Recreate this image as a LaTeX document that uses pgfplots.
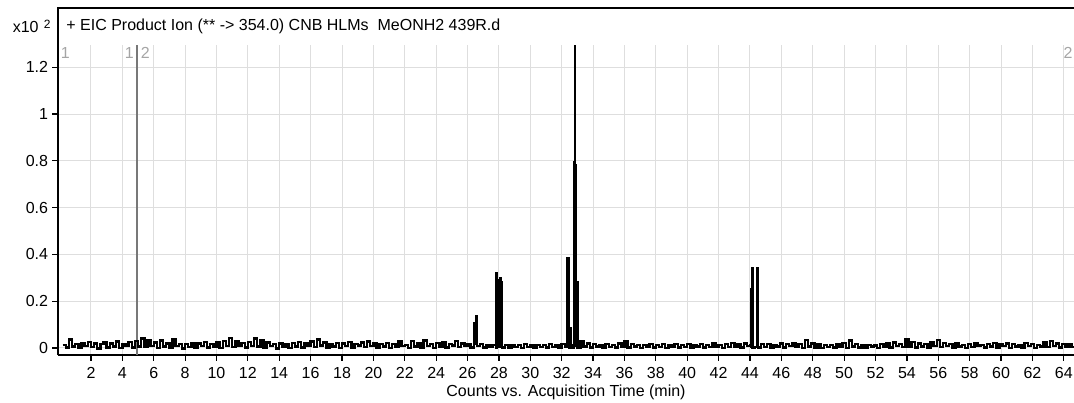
\documentclass[border=0pt]{standalone}
\usepackage{fontspec}
\setmainfont{Liberation Sans}
\usepackage{pgfplots}
\pgfplotsset{compat=1.18}
\definecolor{gridgray}{RGB}{222,222,222}
\definecolor{markgray}{RGB}{120,120,120}
\definecolor{labgray}{RGB}{165,165,165}
\begin{document}
\begin{tikzpicture}
\fontsize{8}{9}\selectfont
\begin{axis}[
  name=ax,
  at={(29pt,23.5pt)}, anchor=south west,
  scale only axis, width=508pt, height=155pt,
  xmin=-0.10, xmax=64.65, ymin=-0.03, ymax=1.295,
  axis x line*=bottom, axis y line*=left,
  axis line style={-, line width=1pt, black},
  xtick={2,4,...,64},
  xticklabels={2,4,6,8,10,12,14,16,18,20,22,24,26,28,30,32,34,36,38,40,42,44,46,48,50,52,54,56,58,60,62,64},
  ytick={0,0.2,0.4,0.6,0.8,1,1.2},
  yticklabels={0,0.2,0.4,0.6,0.8,1,1.2},
  tick align=outside,
  major tick length=2.8pt,
  tick style={black, line width=0.6pt},
  xticklabel style={font=\fontsize{8}{9}\selectfont, inner sep=1pt, yshift=-2pt},
  yticklabel style={font=\fontsize{8}{9}\selectfont, inner sep=1pt, xshift=-1pt},
  grid=major,
  major grid style={gridgray, line width=0.5pt},
  xlabel={Counts vs. Acquisition Time (min)},
  xlabel style={font=\fontsize{8}{9}\selectfont, at={(axis description cs:0.5,0)}, anchor=center, yshift=-18.5pt},
  clip=true,
]
\draw[markgray, line width=0.6pt] (axis cs:4.93,-0.03) -- (axis cs:4.93,1.295);
\addplot[black, line width=1.2pt, const plot, line join=miter] coordinates {
(0.2,0.012) (0.4,0.002) (0.6,0.036) (0.8,0.006) (1.0,0.018) (1.2,0.000) (1.4,0.022) (1.6,0.008) (1.8,0.026) (2.0,0.004)
(2.2,0.020) (2.4,-0.003) (2.6,0.016) (2.8,0.024) (3.0,0.002) (3.2,0.020) (3.4,0.006) (3.6,0.028) (3.8,0.000) (4.0,0.018)
(4.2,0.010) (4.4,0.026) (4.6,0.002) (4.8,0.030) (5.0,0.006) (5.2,0.040) (5.4,0.004) (5.6,0.034) (5.8,0.008) (6.0,0.024)
(6.2,0.000) (6.4,0.032) (6.6,0.006) (6.8,0.020) (7.0,0.002) (7.2,0.036) (7.4,0.008) (7.6,0.018) (7.8,-0.003) (8.0,0.016)
(8.2,0.004) (8.4,0.022) (8.6,0.000) (8.8,0.020) (9.0,0.008) (9.2,0.026) (9.4,0.002) (9.6,0.018) (9.8,0.006) (10.0,0.024)
(10.2,0.000) (10.4,0.030) (10.6,0.008) (10.8,0.042) (11.0,0.004) (11.2,0.028) (11.4,0.010) (11.6,0.022) (11.8,0.002) (12.0,0.026)
(12.2,0.008) (12.4,0.040) (12.6,0.006) (12.8,0.034) (13.0,0.000) (13.2,0.024) (13.4,0.008) (13.6,0.016) (13.8,-0.003) (14.0,0.020)
(14.2,0.004) (14.4,0.018) (14.6,0.000) (14.8,0.022) (15.0,0.006) (15.2,0.026) (15.4,0.002) (15.6,0.020) (15.8,0.008) (16.0,0.028)
(16.2,0.004) (16.4,0.036) (16.6,0.010) (16.8,0.024) (17.0,0.002) (17.2,0.018) (17.4,0.006) (17.6,0.022) (17.8,0.000) (18.0,0.020)
(18.2,0.008) (18.4,0.026) (18.6,0.002) (18.8,0.018) (19.0,0.010) (19.2,0.024) (19.4,0.004) (19.6,0.028) (19.8,0.008) (20.0,0.020)
(20.2,0.002) (20.4,0.016) (20.6,0.006) (20.8,0.022) (21.0,0.000) (21.2,0.018) (21.4,0.004) (21.6,0.030) (21.8,0.008) (22.0,0.014)
(22.2,0.000) (22.4,0.030) (22.6,0.006) (22.8,0.020) (23.0,0.002) (23.2,0.032) (23.4,0.008) (23.6,0.016) (23.8,0.000) (24.0,0.022)
(24.2,0.006) (24.4,0.026) (24.6,0.002) (24.8,0.018) (25.0,0.010) (25.2,0.030) (25.4,0.004) (25.6,0.020) (25.8,0.008) (26.0,0.016)
(26.2,0.002) (26.4,0.020) (26.45,0.105) (26.55,0.137) (26.6,0.008) (26.8,0.018) (27.0,0.002) (27.2,0.014) (27.4,0.006) (27.6,0.012)
(27.8,0.002) (27.85,0.320) (27.88,0.290) (27.92,0.004) (28.10,0.300) (28.14,0.280) (28.18,0.002) (28.4,0.012) (28.6,0.000) (28.8,0.014)
(29.0,0.004) (29.2,0.012) (29.4,0.000) (29.6,0.016) (29.8,0.004) (30.0,0.010) (30.2,0.000) (30.4,0.014) (30.6,0.004) (30.8,0.012)
(31.0,0.002) (31.2,0.016) (31.4,0.004) (31.6,0.012) (31.8,0.000) (32.0,0.018) (32.2,0.004) (32.35,0.020) (32.38,0.385) (32.45,0.370)
(32.48,0.002) (32.55,0.085) (32.6,0.002) (32.75,0.010) (32.78,0.520) (32.80,0.795) (32.83,1.290) (32.86,0.520) (32.88,0.780) (32.92,0.010)
(32.96,0.280) (33.0,0.002) (33.2,0.030) (33.4,0.006) (33.6,0.020) (33.8,0.002) (34.0,0.018) (34.2,0.006) (34.4,0.014) (34.6,0.000)
(34.8,0.016) (35.0,0.004) (35.2,0.012) (35.4,0.002) (35.6,0.020) (35.8,0.006) (36.0,0.028) (36.2,0.002) (36.4,0.016) (36.6,0.006)
(36.8,0.012) (37.0,0.000) (37.2,0.014) (37.4,0.004) (37.6,0.016) (37.8,0.002) (38.0,0.012) (38.2,0.004) (38.4,0.018) (38.6,0.000)
(38.8,0.014) (39.0,0.006) (39.2,0.016) (39.4,0.002) (39.6,0.012) (39.8,0.004) (40.0,0.018) (40.2,0.000) (40.4,0.014) (40.6,0.006)
(40.8,0.016) (41.0,0.002) (41.2,0.012) (41.4,0.004) (41.6,0.020) (41.8,0.006) (42.0,0.014) (42.2,0.000) (42.4,0.018) (42.6,0.004)
(42.8,0.022) (43.0,0.006) (43.2,0.016) (43.4,0.002) (43.6,0.020) (43.8,0.008) (44.0,0.014) (44.08,0.004) (44.10,0.250) (44.13,0.340)
(44.16,0.002) (44.30,0.004) (44.45,0.340) (44.48,0.270) (44.52,0.002) (44.7,0.016) (44.9,0.004) (45.1,0.018) (45.3,0.002) (45.5,0.014)
(45.7,0.006) (45.9,0.020) (46.1,0.002) (46.3,0.016) (46.5,0.008) (46.7,0.022) (46.9,0.004) (47.1,0.018) (47.3,0.000) (47.5,0.034)
(47.7,0.006) (47.9,0.020) (48.1,0.002) (48.3,0.016) (48.5,0.000) (48.7,0.012) (48.9,0.004) (49.1,0.014) (49.3,0.002) (49.5,0.018)
(49.7,0.006) (49.9,0.022) (50.1,0.000) (50.3,0.032) (50.5,0.006) (50.7,0.016) (50.9,0.002) (51.1,0.012) (51.3,0.000) (51.5,0.014)
(51.7,0.006) (51.9,0.010) (52.1,0.000) (52.3,0.016) (52.5,0.004) (52.7,0.020) (52.9,0.002) (53.1,0.024) (53.3,0.008) (53.5,0.018)
(53.7,0.004) (53.9,0.036) (54.1,0.006) (54.3,0.026) (54.5,0.002) (54.7,0.020) (54.9,0.006) (55.1,0.016) (55.3,0.000) (55.5,0.024)
(55.7,0.008) (55.9,0.034) (56.1,0.004) (56.3,0.022) (56.5,0.008) (56.7,0.018) (56.9,0.002) (57.1,0.020) (57.3,0.006) (57.5,0.014)
(57.7,0.000) (57.9,0.016) (58.1,0.004) (58.3,0.020) (58.5,0.008) (58.7,0.014) (58.9,0.002) (59.1,0.018) (59.3,0.006) (59.5,0.022)
(59.7,0.002) (59.9,0.016) (60.1,0.008) (60.3,0.020) (60.5,0.000) (60.7,0.018) (60.9,0.006) (61.1,0.014) (61.3,0.002) (61.5,0.022)
(61.7,0.008) (61.9,0.016) (62.1,0.000) (62.3,0.012) (62.5,0.006) (62.7,0.024) (62.9,0.004) (63.1,0.030) (63.3,0.008) (63.5,0.020)
(63.7,0.002) (63.9,0.018) (64.1,0.006) (64.3,0.016) (64.5,0.004) (64.7,0.014)
};
\node[labgray, anchor=west, inner sep=0pt] at (axis cs:0.05,1.262) {1};
\node[labgray, anchor=east, inner sep=0pt] at (axis cs:4.75,1.262) {1};
\node[labgray, anchor=west, inner sep=0pt] at (axis cs:5.15,1.262) {2};
\node[labgray, anchor=east, inner sep=0pt, xshift=-0.6pt] at (rel axis cs:1,0.974) {2};
\end{axis}
\draw[black, line width=1pt] ([yshift=-0.5pt]ax.north west) -- ([yshift=18.5pt]ax.north west) -- ([yshift=18.5pt]ax.north east);
\node[anchor=east, inner sep=0pt] at (25.5pt,188pt) {x10\,\,\raisebox{0.45ex}{\fontsize{6}{7}\selectfont 2}};
\node[anchor=west, inner sep=0pt] at (33pt,188pt) {+ EIC Product Ion (** -> 354.0) CNB HLMs\ \ MeONH2 439R.d};
\pgfresetboundingbox
\path (0,0) rectangle (537pt,201pt);
\end{tikzpicture}
\end{document}
